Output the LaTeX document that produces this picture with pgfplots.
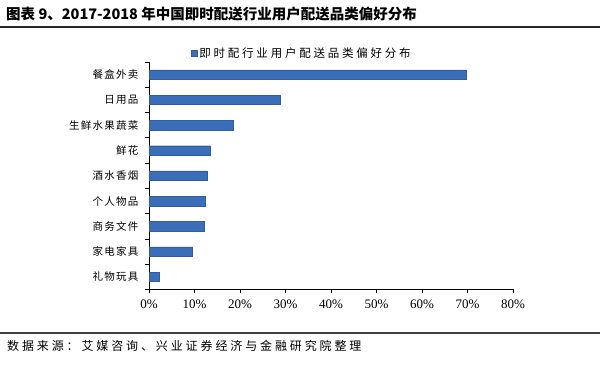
\documentclass[border=0pt]{standalone}
\usepackage{fontspec}
\setmainfont{Liberation Serif}
\newfontfamily\cjk{Noto Sans CJK SC}
\newfontfamily\cjkl[LetterSpace=12]{Noto Sans CJK SC}
\newfontfamily\cjkw[LetterSpace=24]{Noto Sans CJK SC}
\usepackage{pgfplots}
\pgfplotsset{compat=1.18}
\definecolor{barblue}{RGB}{58,110,185}
\begin{document}
\begin{tikzpicture}
\path[use as bounding box] (0bp,0bp) rectangle (600bp,383bp);
% title
\node[anchor=west,inner sep=0pt,font=\cjk\bfseries\fontsize{14.5bp}{16bp}\selectfont] at (6bp,369bp) {图表 9、2017-2018 年中国即时配送行业用户配送品类偏好分布};
\draw[line width=1.5bp,black!85] (0bp,356bp) -- (600bp,356bp);
\draw[line width=1.8bp,black!75] (0bp,50bp) -- (600bp,50bp);
\node[anchor=west,inner sep=0pt,font=\cjkw\fontsize{12bp}{14bp}\selectfont] at (7bp,37bp) {数据来源：艾媒咨询、兴业证券经济与金融研究院整理};
\begin{axis}[
  at={(149bp,93.5bp)}, anchor=south west,
  scale only axis, width=364bp, height=227.5bp,
  xbar, bar width=9.5bp,
  xmin=0, xmax=80,
  ymin=-0.5, ymax=8.5,
  axis x line*=bottom, axis y line*=left,
  axis line style={black, line width=0.8bp},
  xtick={0,10,...,80},
  xticklabel={\pgfmathprintnumber{\tick}\%},
  xticklabel style={font=\fontsize{13bp}{15bp}\selectfont, yshift=-3bp},
  /pgf/number format/assume math mode=true,
  ytick={0,...,8},
  yticklabels={礼物玩具,家电家具,商务文件,个人物品,酒水香烟,鲜花,生鲜水果蔬菜,日用品,餐盒外卖},
  yticklabel style={font=\cjkl\fontsize{10.5bp}{12bp}\selectfont, xshift=-3bp},
  major y tick style={draw=none},
  minor ytick={-0.5,0.5,...,8.5},
  minor tick length=4bp,
  major tick length=4bp,
  tick align=outside,
  tick style={black, line width=0.8bp},
  legend style={at={(0.115,1.04)}, anchor=west, draw=none, fill=none,
    font=\cjkw\fontsize{11.5bp}{13bp}\selectfont, inner sep=0pt},
  legend image code/.code={\fill[#1] (0bp,-3bp) rectangle (6bp,3bp);},
]
\addplot[fill=barblue, draw=barblue!85!black] coordinates {
(2.2,0) (9.6,1) (12.1,2) (12.4,3) (12.7,4) (13.4,5) (18.5,6) (28.8,7) (69.8,8)
};
\addlegendentry{即时配行业用户配送品类偏好分布}
\end{axis}
\end{tikzpicture}
\end{document}
